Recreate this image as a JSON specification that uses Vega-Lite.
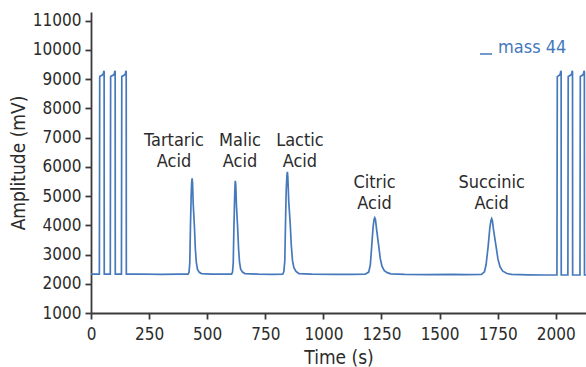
{
  "$schema": "https://vega.github.io/schema/vega-lite/v6.json",
  "width": 495,
  "height": 301,
  "autosize": "none",
  "padding": {"left": 91, "top": 12, "right": 0, "bottom": 54},
  "background": "white",
  "config": {
    "font": "DejaVu Sans Condensed, Roboto, sans-serif",
    "view": {"stroke": null},
    "axis": {
      "domainColor": "#3a3a3a", "domainWidth": 1.8, "tickColor": "#3a3a3a", "tickWidth": 1.8, "tickSize": 6,
      "labelFontSize": 17, "labelColor": "#2b2b2b", "titleFontSize": 18, "titleFontWeight": "normal", "titleColor": "#2b2b2b",
      "grid": false, "labelFlush": false, "labelOverlap": false, "format": "d"
    }
  },
  "layer": [
    {
      "data": {"values": [
        {"t": 0, "a": 2330}, {"t": 36, "a": 2330}, {"t": 37.5, "a": 9090}, {"t": 50, "a": 9150}, {"t": 53.5, "a": 9200}, {"t": 55, "a": 9290}, {"t": 56.5, "a": 9250}, {"t": 57, "a": 2330},
        {"t": 83, "a": 2330}, {"t": 84.5, "a": 9090}, {"t": 98, "a": 9150}, {"t": 101, "a": 9200}, {"t": 102.5, "a": 9290}, {"t": 104, "a": 9250}, {"t": 104.5, "a": 2330},
        {"t": 131, "a": 2330}, {"t": 132.5, "a": 9090}, {"t": 145, "a": 9150}, {"t": 148.5, "a": 9200}, {"t": 150, "a": 9290}, {"t": 151.5, "a": 9250}, {"t": 152, "a": 2330},
        {"t": 200, "a": 2335}, {"t": 300, "a": 2325}, {"t": 380, "a": 2330},
        {"t": 418, "a": 2330}, {"t": 422, "a": 2400}, {"t": 425, "a": 2700}, {"t": 428, "a": 3970}, {"t": 431, "a": 5000}, {"t": 433, "a": 5450}, {"t": 435, "a": 5610}, {"t": 437, "a": 5450}, {"t": 440, "a": 4700}, {"t": 445, "a": 3970}, {"t": 449, "a": 3200}, {"t": 453, "a": 2750}, {"t": 458, "a": 2500}, {"t": 465, "a": 2400}, {"t": 475, "a": 2350},
        {"t": 520, "a": 2330}, {"t": 570, "a": 2335},
        {"t": 605, "a": 2330}, {"t": 609, "a": 2400}, {"t": 612, "a": 2700}, {"t": 615, "a": 3925}, {"t": 618, "a": 4950}, {"t": 620, "a": 5400}, {"t": 621, "a": 5520}, {"t": 623, "a": 5380}, {"t": 626, "a": 4650}, {"t": 631, "a": 3925}, {"t": 635, "a": 3200}, {"t": 639, "a": 2750}, {"t": 644, "a": 2500}, {"t": 652, "a": 2400}, {"t": 662, "a": 2350},
        {"t": 720, "a": 2330}, {"t": 780, "a": 2325},
        {"t": 825, "a": 2330}, {"t": 830, "a": 2420}, {"t": 834, "a": 2800}, {"t": 837, "a": 4080}, {"t": 840, "a": 5200}, {"t": 843, "a": 5700}, {"t": 845, "a": 5830}, {"t": 847, "a": 5650}, {"t": 851, "a": 4800}, {"t": 857, "a": 4080}, {"t": 862, "a": 3300}, {"t": 867, "a": 2800}, {"t": 873, "a": 2550}, {"t": 882, "a": 2420}, {"t": 895, "a": 2350},
        {"t": 950, "a": 2330}, {"t": 1050, "a": 2320}, {"t": 1120, "a": 2325},
        {"t": 1180, "a": 2330}, {"t": 1195, "a": 2400}, {"t": 1202, "a": 2650}, {"t": 1208, "a": 3295}, {"t": 1214, "a": 3950}, {"t": 1218, "a": 4200}, {"t": 1221, "a": 4260}, {"t": 1224, "a": 4200}, {"t": 1229, "a": 3850}, {"t": 1238, "a": 3295}, {"t": 1245, "a": 2850}, {"t": 1252, "a": 2600}, {"t": 1262, "a": 2450}, {"t": 1275, "a": 2380}, {"t": 1290, "a": 2340},
        {"t": 1350, "a": 2320}, {"t": 1450, "a": 2315}, {"t": 1550, "a": 2320}, {"t": 1620, "a": 2310},
        {"t": 1680, "a": 2320}, {"t": 1693, "a": 2410}, {"t": 1700, "a": 2650}, {"t": 1709, "a": 3280}, {"t": 1716, "a": 3900}, {"t": 1721, "a": 4170}, {"t": 1724, "a": 4230}, {"t": 1727, "a": 4170}, {"t": 1732, "a": 3850}, {"t": 1743, "a": 3280}, {"t": 1751, "a": 2850}, {"t": 1760, "a": 2580}, {"t": 1772, "a": 2430}, {"t": 1790, "a": 2350}, {"t": 1810, "a": 2320},
        {"t": 1880, "a": 2305}, {"t": 1950, "a": 2300},
        {"t": 2005, "a": 2300}, {"t": 2006.5, "a": 9090}, {"t": 2017, "a": 9150}, {"t": 2020, "a": 9200}, {"t": 2021.5, "a": 9290}, {"t": 2023, "a": 9250}, {"t": 2023.5, "a": 2300},
        {"t": 2052, "a": 2300}, {"t": 2053.5, "a": 9090}, {"t": 2066, "a": 9150}, {"t": 2069, "a": 9200}, {"t": 2070.5, "a": 9290}, {"t": 2072, "a": 9250}, {"t": 2072.5, "a": 2300},
        {"t": 2104, "a": 2300}, {"t": 2105.5, "a": 9090}, {"t": 2117, "a": 9150}, {"t": 2120, "a": 9200}, {"t": 2121.5, "a": 9290}, {"t": 2123, "a": 9250}, {"t": 2123.5, "a": 2300},
        {"t": 2130, "a": 2300}
      ]},
      "mark": {"type": "line", "strokeWidth": 1.7},
      "encoding": {
        "x": {"field": "t", "type": "quantitative", "scale": {"domain": [0, 2130], "nice": false, "zero": false},
              "axis": {"title": "Time (s)", "values": [0, 250, 500, 750, 1000, 1250, 1500, 1750, 2000], "tickCount": 20, "labelPadding": 7, "titlePadding": 6, "labelOverlap": false, "titleFontSize": 19}},
        "y": {"field": "a", "type": "quantitative", "scale": {"domain": [1000, 11300], "nice": false, "zero": false},
              "axis": {"title": "Amplitude (mV)", "values": [1000, 2000, 3000, 4000, 5000, 6000, 7000, 8000, 9000, 10000, 11000], "tickCount": 20, "labelPadding": 4, "titlePadding": 4, "labelOverlap": false, "labelSeparation": 0, "titleFontSize": 19}},
        "color": {"datum": "mass 44", "type": "nominal", "scale": {"range": ["#4679bb"]},
                  "legend": {"title": null, "orient": "none", "legendX": 386, "legendY": 27, "symbolType": "M-1,1H1", "symbolSize": 144, "symbolStrokeWidth": 1.5,
                             "labelFontSize": 18, "labelColor": "#4679bb", "labelOffset": 3}}
      }
    },
    {
      "data": {"values": [
        {"t": 357, "a": 6580, "label": "Tartaric\nAcid"},
        {"t": 641, "a": 6580, "label": "Malic\nAcid"},
        {"t": 899, "a": 6580, "label": "Lactic\nAcid"},
        {"t": 1220, "a": 5140, "label": "Citric\nAcid"},
        {"t": 1724, "a": 5140, "label": "Succinic\nAcid"}
      ]},
      "mark": {"type": "text", "fontSize": 18, "color": "#2b2b2b", "align": "center", "baseline": "bottom", "lineBreak": "\n", "lineHeight": 21},
      "encoding": {
        "x": {"field": "t", "type": "quantitative"},
        "y": {"field": "a", "type": "quantitative"},
        "text": {"field": "label"}
      }
    }
  ]
}
